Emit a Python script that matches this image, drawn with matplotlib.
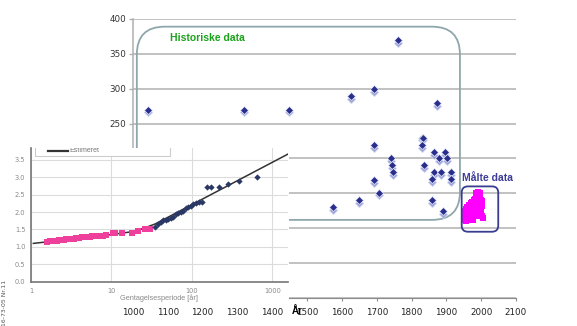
import matplotlib
matplotlib.use("Agg")
import matplotlib.pyplot as plt
from matplotlib.patches import FancyBboxPatch, Rectangle
from matplotlib.transforms import offset_copy
import matplotlib.transforms as mtransforms


# historic storm surge levels (year, cm)
hist_years = [1044, 1319, 1448, 1625, 1692, 1760, 1872, 1692, 1829, 1834,
              1829, 1865, 1897, 1740, 1880, 1903, 1743, 1835, 1746, 1864,
              1886, 1913, 1858, 1913, 1692, 1706, 1648, 1575, 1858, 1891]
hist_levels = [270, 270, 270, 290, 300, 370, 279, 219, 230, 230,
               219, 209, 209, 200, 200, 200, 191, 191, 180, 181,
               180, 180, 170, 170, 169, 151, 140, 130, 140, 125]

# measured annual maxima
meas_years = list(range(1952, 2005))
meas_levels = [112, 125, 118, 111, 128, 115, 120, 131, 113, 124,
               118, 130, 112, 126, 134, 119, 128, 114, 131, 122,
               136, 117, 127, 138, 121, 112, 133, 125, 140, 118,
               129, 142, 122, 150, 127, 146, 117, 138, 152, 126,
               148, 131, 151, 120, 145, 136, 150, 125, 140, 118,
               132, 139, 115]

x_ticks = list(range(1000, 2101, 100))
y_ticks = list(range(0, 401, 50))

# inset: return period plot (return period [years], level [m])
est_period = [1.07, 9, 20, 35, 1570]
est_level = [1.10, 1.34, 1.45, 1.66, 3.67]
pink_period = [1.6, 1.7, 1.8, 1.9, 2.0, 2.1, 2.2, 2.3, 2.45, 2.6, 2.75, 2.9,
               3.05, 3.2, 3.4, 3.6, 3.8, 4.0, 4.25, 4.5, 4.8, 5.1, 5.4, 5.8,
               6.2, 6.7, 7.2, 7.8, 8.6, 10.3, 11.0, 13.4, 18.1, 21.5, 26, 30]
pink_level = [1.15, 1.16, 1.16, 1.17, 1.18, 1.18, 1.19, 1.19, 1.20, 1.21,
              1.22, 1.22, 1.23, 1.24, 1.24, 1.25, 1.26, 1.26, 1.27, 1.27,
              1.28, 1.29, 1.29, 1.30, 1.30, 1.31, 1.32, 1.32, 1.34, 1.39,
              1.39, 1.39, 1.39, 1.47, 1.50, 1.52]
navy_period = [34.7, 38.1, 40.7, 44.1, 47.5, 50.8, 54.4, 58.7, 63.3, 67.7,
               72.3, 78.0, 84.1, 89.9, 96.0, 103.6, 111.8, 123, 132,
               152, 171, 218, 283, 385, 636]
navy_level = [1.58, 1.66, 1.72, 1.77, 1.77, 1.79, 1.82, 1.87, 1.95, 1.98,
              2.01, 2.04, 2.11, 2.14, 2.18, 2.23, 2.27, 2.30, 2.30,
              2.71, 2.71, 2.71, 2.80, 2.90, 3.02]
inset_yticks = [0.0, 0.5, 1.0, 1.5, 2.0, 2.5, 3.0, 3.5]
inset_xticks = [1, 10, 100, 1000]

W, H = 577, 326
fig = plt.figure(figsize=(W / 100, H / 100), dpi=100)
rect = [133 / W, 28 / H, 383 / W, 279 / H]

# ---- main chart
ax = fig.add_axes(rect, zorder=0)
ax.set_xlim(1000, 2100)
ax.set_ylim(0, 400)
ax.set_xticks(x_ticks)
ax.set_yticks(y_ticks)
ax.set_xticklabels([])
ax.set_yticklabels([str(v) for v in y_ticks], fontsize=6.3, color="#333333")
ax.tick_params(axis="y", length=3, width=1, color="#b0b0b0", pad=2)
ax.tick_params(axis="x", length=2.5, width=0.8, color="#8c8c8c")
ax.grid(axis="y", color="#b0b0b0", linewidth=1.1)
ax.set_axisbelow(True)
for s in ("top", "right"):
    ax.spines[s].set_visible(False)
ax.spines["left"].set_color("#b0b0b0")
ax.spines["left"].set_linewidth(1.1)
ax.spines["bottom"].set_color("#8c8c8c")

shadow = offset_copy(ax.transData, fig=fig, x=0, y=-2.0, units="points")
ax.plot(hist_years, hist_levels, "D", ms=4.4, color="#8487d0", alpha=0.8,
        mec="#c9d3f0", mew=0.7, transform=shadow, zorder=3)
ax.plot(hist_years, hist_levels, "D", ms=3.6, color="#2a2d8c",
        mec="#e4ecf8", mew=0.5, zorder=4)
ax.plot(meas_years, meas_levels, "s", ms=4.3, color="#ff00ff", mew=0,
        zorder=4)

ax.add_patch(FancyBboxPatch((1011, 112), 928, 277,
                            boxstyle="round,pad=0,rounding_size=80",
                            mutation_aspect=0.5, fc="none", ec="#8ea7ad",
                            lw=1.3, zorder=2))
ax.add_patch(FancyBboxPatch((1944, 95), 105, 65,
                            boxstyle="round,pad=0,rounding_size=18",
                            mutation_aspect=0.5, fc="none", ec="#3a3d8f",
                            lw=1.3, zorder=5))
ax.text(1106, 373, "Historiske data", color="#1aa31a", fontsize=7.5,
        fontweight="bold", family="Liberation Sans", ha="left", va="center")
ax.text(2017, 172, "Målte data", color="#3d3d99", fontsize=7.5,
        fontweight="bold", family="Liberation Sans", ha="center",
        va="center")

# ---- inset picture (white background)
fig.add_artist(Rectangle((0, 0), 289 / W, (H - 148) / H,
                         transform=fig.transFigure, fc="white", ec="none",
                         zorder=1))
ins = fig.add_axes([31 / W, (H - 281.7) / H, 257 / W, 133.7 / H], zorder=2)
ins.set_xscale("log")
ins.set_xlim(1, 1558)
ins.set_ylim(0, 3.84)
ins.set_xticks(inset_xticks)
ins.set_xticklabels([str(v) for v in inset_xticks])
ins.xaxis.set_minor_locator(matplotlib.ticker.NullLocator())
ins.set_yticks(inset_yticks)
ins.set_yticklabels([f"{v:.1f}" for v in inset_yticks])
ins.tick_params(length=0, labelsize=4.8, labelcolor="#8a8a8a")
ins.tick_params(axis="x", pad=4.5)
ins.tick_params(axis="y", pad=4)
ins.grid(color="#dcdcdc", linewidth=0.8)
ins.set_axisbelow(True)
for s in ("top", "right"):
    ins.spines[s].set_visible(False)
for s in ("left", "bottom"):
    ins.spines[s].set_color("#777777")
    ins.spines[s].set_linewidth(1.2)
ins.set_xlabel("Gentagelsesperiode [år]", fontsize=5.3, color="#8a8a8a",
               family="Liberation Sans", labelpad=0.2)
ins.plot(est_period, est_level, color="#333333", lw=1.1, zorder=3)
ins.plot(pink_period, pink_level, "s", ms=3.9, color="#ee3f9c", mew=0,
         zorder=4)
ins.plot(navy_period, navy_level, "D", ms=3.2, color="#2a3866", mew=0,
         zorder=4)
ins.add_patch(Rectangle((0.0156, 0.942), 0.525, 0.2,
                        transform=ins.transAxes, fc="white", ec="#cccccc",
                        lw=0.8, zorder=5))
ins.plot([0.066, 0.144], [0.974, 0.974], color="#333333", lw=1.6,
         transform=ins.transAxes, zorder=6)
ins.text(0.148, 0.985, "Estimeret", transform=ins.transAxes, fontsize=5,
         color="#777777", family="Liberation Sans", va="center",
         clip_on=True, zorder=6)
fig.text(5 / W, 1 - 303 / H, "16-73-05 Nr.11", rotation=90, fontsize=4.4,
         color="#555555", ha="center", va="center", zorder=4)

# ---- main x tick labels drawn above the inset
ov = fig.add_axes(rect, zorder=3)
ov.patch.set_visible(False)
for s in ov.spines.values():
    s.set_visible(False)
ov.set_xlim(1000, 2100)
ov.set_ylim(0, 400)
ov.set_xticks(x_ticks)
ov.set_xticklabels([str(v) for v in x_ticks], fontsize=6.3, color="#222222")
ov.set_yticks([])
ov.tick_params(axis="x", length=0, pad=7)
blend = mtransforms.blended_transform_factory(ov.transData, ov.transAxes)
ov.text(1471, -0.047, "År", transform=blend, fontsize=7, fontweight="bold",
        family="Liberation Sans", ha="center", va="center")

fig.savefig("out.png", dpi=100)
